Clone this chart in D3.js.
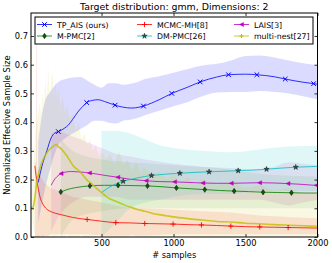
<!DOCTYPE html>
<html>
<head>
<meta charset="utf-8">
<script src="https://cdn.jsdelivr.net/npm/d3@7"></script>
<style>
body { margin: 0; background: white; }
text { font-family: "DejaVu Sans", sans-serif; }
</style>
</head>
<body>
<div id="container"></div>
<script>
// TP_AIS (ours)
const tpX = [60, 85, 120, 150, 175, 200, 240, 270, 300, 335, 370, 397, 440, 475, 520, 560, 594, 650, 710, 760, 791, 900, 988, 1100, 1185, 1300, 1382, 1500, 1579, 1700, 1776, 1900, 1973, 2000];
const tpY = [0.19, 0.245, 0.30, 0.345, 0.362, 0.367, 0.378, 0.39, 0.41, 0.435, 0.455, 0.468, 0.476, 0.478, 0.472, 0.465, 0.459, 0.452, 0.449, 0.452, 0.456, 0.478, 0.500, 0.522, 0.540, 0.557, 0.565, 0.567, 0.565, 0.558, 0.550, 0.539, 0.534, 0.532];
const tpMarks = [200, 397, 594, 791, 988, 1185, 1382, 1579, 1776, 1973];
const tpBandX = [60, 100, 150, 200, 250, 300, 350, 400, 450, 500, 550, 600, 650, 700, 750, 800, 900, 1000, 1100, 1200, 1300, 1400, 1500, 1600, 1700, 1800, 1900, 2000];
const tpLo = [0.05, 0.15, 0.25, 0.32, 0.345, 0.36, 0.375, 0.39, 0.405, 0.405, 0.398, 0.395, 0.405, 0.408, 0.414, 0.424, 0.44, 0.455, 0.47, 0.49, 0.503, 0.505, 0.505, 0.508, 0.505, 0.5, 0.49, 0.48];
const tpHi = [0.33, 0.46, 0.51, 0.54, 0.55, 0.555, 0.557, 0.545, 0.53, 0.52, 0.535, 0.535, 0.53, 0.534, 0.54, 0.55, 0.56, 0.572, 0.585, 0.597, 0.603, 0.615, 0.63, 0.632, 0.625, 0.615, 0.605, 0.598];

// MCMC-MH[8]
const mhX = [37, 45, 58, 75, 92, 120, 150, 200, 250, 300, 350, 400, 450, 500, 599, 700, 800, 900, 997, 1100, 1194, 1300, 1398, 1500, 1599, 1700, 1796, 1900, 2000];
const mhY = [0.248, 0.215, 0.175, 0.135, 0.115, 0.097, 0.088, 0.08, 0.074, 0.068, 0.064, 0.061, 0.058, 0.055, 0.05, 0.049, 0.047, 0.046, 0.045, 0.043, 0.042, 0.04, 0.038, 0.036, 0.035, 0.034, 0.033, 0.032, 0.031];
const mhMarks = [400, 599, 800, 997, 1194, 1398, 1599, 1796];
const mhBandX = [37, 45, 46, 52, 53, 70, 100, 150, 200, 300, 400, 500, 600, 700, 800, 1000, 1200, 1400, 1600, 1800, 2000];
const mhLo = [0, 0, 0, 0, 0, 0, 0, 0.01, 0.01, 0.01, 0.01, 0.005, 0.005, 0.005, 0.005, 0.01, 0.01, 0.01, 0.01, 0.01, 0.01];
const mhHi = [0.26, 0.26, 0.8, 0.8, 0.24, 0.22, 0.19, 0.17, 0.16, 0.14, 0.13, 0.12, 0.11, 0.1, 0.1, 0.095, 0.09, 0.085, 0.075, 0.07, 0.065];

// LAIS[3]
const lsX = [150, 170, 190, 219, 250, 290, 335, 380, 416, 470, 530, 613, 700, 810, 900, 1007, 1100, 1204, 1300, 1401, 1500, 1598, 1700, 1795, 1900, 1992, 2000];
const lsY = [0.18, 0.198, 0.21, 0.221, 0.226, 0.228, 0.227, 0.225, 0.223, 0.219, 0.214, 0.208, 0.201, 0.196, 0.193, 0.192, 0.19, 0.188, 0.187, 0.187, 0.188, 0.189, 0.188, 0.186, 0.183, 0.18, 0.18];
const lsMarks = [219, 416, 613, 810, 1007, 1204, 1401, 1598, 1795, 1992];
const lsBandX = [150, 200, 250, 300, 400, 500, 600, 700, 800, 1000, 1200, 1400, 1600, 1700, 1800, 1900, 2000];
const lsLo = [0.02, 0.07, 0.1, 0.12, 0.14, 0.14, 0.14, 0.13, 0.13, 0.13, 0.13, 0.13, 0.13, 0.12, 0.11, 0.12, 0.13];
const lsHi = [0.36, 0.37, 0.36, 0.35, 0.33, 0.31, 0.29, 0.28, 0.27, 0.255, 0.245, 0.24, 0.235, 0.245, 0.26, 0.255, 0.25];

// M-PMC[2]
const mpX = [217, 260, 320, 419, 520, 615, 720, 819, 920, 1020, 1120, 1217, 1320, 1421, 1520, 1622, 1720, 1819, 1920, 2000];
const mpY = [0.157, 0.165, 0.172, 0.178, 0.18, 0.18, 0.179, 0.178, 0.175, 0.171, 0.168, 0.165, 0.162, 0.16, 0.158, 0.156, 0.155, 0.154, 0.153, 0.153];
const mpMarks = [217, 419, 615, 819, 1020, 1217, 1421, 1622, 1819];
const mpBandX = [217, 300, 400, 500, 700, 1000, 1300, 1600, 2000];
const mpLo = [0.0, 0.06, 0.08, 0.09, 0.1, 0.1, 0.1, 0.1, 0.1];
const mpHi = [0.34, 0.3, 0.28, 0.27, 0.26, 0.25, 0.24, 0.22, 0.21];

// DM-PMC[26]
const dmX = [500, 550, 600, 650, 700, 750, 847, 950, 1044, 1150, 1247, 1350, 1449, 1550, 1646, 1750, 1849, 1950, 2000];
const dmY = [0.155, 0.172, 0.185, 0.194, 0.2, 0.206, 0.214, 0.219, 0.222, 0.225, 0.227, 0.229, 0.231, 0.233, 0.236, 0.24, 0.243, 0.245, 0.246];
const dmMarks = [650, 847, 1044, 1247, 1449, 1646, 1849];
const dmBandX = [500, 600, 700, 800, 900, 1000, 1200, 1400, 1600, 1800, 2000];
const dmLo = [0.0, 0.05, 0.1, 0.12, 0.13, 0.14, 0.15, 0.15, 0.16, 0.16, 0.16];
const dmHi = [0.37, 0.37, 0.36, 0.34, 0.32, 0.31, 0.3, 0.295, 0.305, 0.315, 0.318];

// multi-nest[27]
const mnX = [11, 20, 30, 40, 50, 60, 75, 90, 110, 130, 150, 170, 185, 200, 220, 240, 260, 275, 290, 300, 320, 340, 360, 380, 400, 430, 460, 500, 540, 580, 620, 660, 700, 750, 800, 850, 900, 950, 1000, 1100, 1200, 1300, 1400, 1500, 1600, 1700, 1800, 1900, 2000];
const mnY = [0.105, 0.1, 0.115, 0.15, 0.19, 0.215, 0.245, 0.265, 0.285, 0.3, 0.31, 0.318, 0.322, 0.315, 0.307, 0.295, 0.282, 0.27, 0.258, 0.25, 0.24, 0.232, 0.222, 0.21, 0.198, 0.186, 0.172, 0.155, 0.138, 0.128, 0.12, 0.111, 0.104, 0.096, 0.09, 0.083, 0.078, 0.074, 0.07, 0.064, 0.059, 0.054, 0.052, 0.048, 0.046, 0.043, 0.041, 0.039, 0.037];
const mnBandX = [11, 20, 30, 40, 50, 60, 70, 80, 90, 100, 110, 120, 130, 140, 150, 160, 170, 180, 190, 200, 215, 230, 245, 260, 280, 300, 320, 340, 360, 380, 400, 420, 440, 460, 480, 500, 530, 560, 590, 620, 650, 680, 710, 740, 770, 800, 850, 900, 950, 1000, 1050, 1100, 1150, 1200, 1300, 1400, 1500, 1600, 1700, 1800, 1900, 2000];
const mnHi = [0.12, 0.2, 0.28, 0.36, 0.4, 0.43, 0.47, 0.42, 0.5, 0.45, 0.56, 0.48, 0.59, 0.48, 0.54, 0.58, 0.47, 0.55, 0.48, 0.52, 0.45, 0.49, 0.43, 0.46, 0.41, 0.43, 0.37, 0.4, 0.34, 0.36, 0.32, 0.34, 0.3, 0.32, 0.28, 0.3, 0.27, 0.29, 0.25, 0.3, 0.25, 0.27, 0.23, 0.26, 0.22, 0.24, 0.21, 0.23, 0.2, 0.22, 0.19, 0.21, 0.18, 0.2, 0.18, 0.19, 0.17, 0.18, 0.16, 0.17, 0.15, 0.15];
const mnLo = [0.09, 0.05, 0.02, 0, 0, 0, 0, 0.01, 0, 0, 0.01, 0, 0, 0, 0.01, 0, 0, 0, 0, 0.01, 0, 0, 0, 0.01, 0, 0, 0, 0, 0.01, 0, 0, 0, 0, 0, 0.01, 0, 0, 0, 0, 0, 0, 0, 0.01, 0, 0, 0, 0, 0, 0, 0, 0, 0, 0, 0, 0, 0, 0, 0, 0, 0, 0, 0];

const xTicks = [500, 1000, 1500, 2000];
const yTicks = [0, 0.1, 0.2, 0.3, 0.4, 0.5, 0.6, 0.7];

const w = 332; // canvas width
const h = 263; // canvas height
const L = 31, R = 317.5, T = 13, B = 237; // plot box

const svg = d3.select("#container").append("svg").attr("width", w).attr("height", h).style("background-color", "white");

const xScale = d3.scaleLinear().domain([10, 2000]).range([L, R]);
const yScale = d3.scaleLinear().domain([0, 0.78]).range([B, T]);

svg.append("clipPath").attr("id", "clip").append("rect").attr("x", L).attr("y", T).attr("width", R - L).attr("height", B - T);
const plot = svg.append("g").attr("clip-path", "url(#clip)");

const series = [
	{name: "TP_AIS (ours)", xs: tpX, ys: tpY, marks: tpMarks, bx: tpBandX, lo: tpLo, hi: tpHi, color: "#0000ff", band: 0.14, marker: "x"},
	{name: "MCMC-MH[8]", xs: mhX, ys: mhY, marks: mhMarks, bx: mhBandX, lo: mhLo, hi: mhHi, color: "#ff0000", band: 0.1, marker: "+"},
	{name: "LAIS[3]", xs: lsX, ys: lsY, marks: lsMarks, bx: lsBandX, lo: lsLo, hi: lsHi, color: "#bf00bf", band: 0.1, marker: "<"},
	{name: "M-PMC[2]", xs: mpX, ys: mpY, marks: mpMarks, bx: mpBandX, lo: mpLo, hi: mpHi, color: "#008000", band: 0.08, marker: "d"},
	{name: "DM-PMC[26]", xs: dmX, ys: dmY, marks: dmMarks, bx: dmBandX, lo: dmLo, hi: dmHi, color: "#00bfbf", band: 0.12, marker: "*"},
	{name: "multi-nest[27]", xs: mnX, ys: mnY, marks: [], bx: mnBandX, lo: mnLo, hi: mnHi, color: "#bfbf00", band: 0.11, marker: "s+"}
];

// bands
series.forEach(s => {
	const pts = s.bx.map((v, i) => [v, s.lo[i], s.hi[i]]);
	const area = d3.area().x(d => xScale(d[0])).y0(d => yScale(d[1])).y1(d => yScale(d[2]));
	if(s.name != "multi-nest[27]" && s.name != "MCMC-MH[8]") area.curve(d3.curveMonotoneX);
	plot.append("path").datum(pts).attr("d", area).attr("fill", s.color).attr("fill-opacity", s.band);
});

function markerPath(type, r) {
	if(type == "x") return `M${-r},${-r}L${r},${r}M${-r},${r}L${r},${-r}`;
	if(type == "+" || type == "s+") return `M${-r},0L${r},0M0,${-r}L0,${r}`;
	if(type == "<") return `M${-r},0L${r},${-r}L${r},${r}Z`;
	if(type == "d") return `M0,${-r * 1.5}L${r},0L0,${r * 1.5}L${-r},0Z`;
	if(type == "*") return d3.symbol(d3.symbolStar, r)();
}

function drawMarker(g, type, cx, cy, color) {
	const m = g.append("path").attr("transform", `translate(${cx},${cy})`);
	if(type == "x") m.attr("d", markerPath(type, 2.3)).attr("stroke", color).attr("stroke-width", 1).attr("fill", "none");
	else if(type == "+") m.attr("d", markerPath(type, 2.6)).attr("stroke", color).attr("stroke-width", 0.9).attr("fill", "none");
	else if(type == "s+") m.attr("d", markerPath(type, 2)).attr("stroke", color).attr("stroke-width", 1).attr("fill", "none");
	else if(type == "<") m.attr("d", markerPath(type, 2)).attr("fill", color).attr("stroke", color).attr("stroke-width", 0.5);
	else if(type == "d") m.attr("d", markerPath(type, 1.8)).attr("fill", "#0b5d0b").attr("stroke", "#000").attr("stroke-width", 0.5);
	else if(type == "*") m.attr("d", markerPath(type, 9)).attr("fill", "#1d5a5a").attr("stroke", "#000").attr("stroke-width", 0.4);
}

// lines
series.forEach(s => {
	const pts = s.xs.map((v, i) => [v, s.ys[i]]);
	const line = d3.line().x(d => xScale(d[0])).y(d => yScale(d[1])).curve(d3.curveMonotoneX);
	plot.append("path").datum(pts).attr("d", line).attr("fill", "none").attr("stroke", s.color).attr("stroke-opacity", 0.8).attr("stroke-width", s.marker == "s+" ? 1.6 : 1);
});

// markers
series.forEach(s => {
	s.marks.forEach(mx => {
		const i = s.xs.indexOf(mx);
		if(i < 0) return;
		drawMarker(plot, s.marker, xScale(s.xs[i]), yScale(s.ys[i]), s.color);
	});
});

// axes
const xAxis = d3.axisBottom(xScale).tickValues(xTicks).tickSize(-3).tickPadding(3).tickFormat(d3.format("d"));
svg.append("g").attr("transform", `translate(0, ${B})`).call(xAxis);
svg.append("g").attr("transform", `translate(0, ${T})`).call(d3.axisTop(xScale).tickValues(xTicks).tickSize(-3).tickFormat(""));
const yAxis = d3.axisLeft(yScale).tickValues(yTicks).tickSize(-3).tickPadding(3).tickFormat(d3.format(".1f"));
svg.append("g").attr("transform", `translate(${L}, 0)`).call(yAxis);
svg.append("g").attr("transform", `translate(${R}, 0)`).call(d3.axisRight(yScale).tickValues(yTicks).tickSize(-3).tickFormat(""));
svg.selectAll(".domain").remove();
svg.selectAll(".tick text").attr("font-family", "DejaVu Sans").attr("font-size", 8.3).attr("fill", "#000");
svg.selectAll(".tick line").attr("stroke", "#000").attr("stroke-width", 0.8);
svg.append("rect").attr("x", L).attr("y", T).attr("width", R - L).attr("height", B - T).attr("fill", "none").attr("stroke", "#000").attr("stroke-width", 1);

// titles
svg.append("text").attr("x", (L + R) / 2).attr("y", 10).attr("text-anchor", "middle").attr("font-size", 9.4).text("Target distribution: gmm, Dimensions: 2");
svg.append("text").attr("x", (L + R) / 2).attr("y", 258).attr("text-anchor", "middle").attr("font-size", 8.3).text("# samples");
svg.append("text").attr("transform", `translate(10, ${(T + B) / 2}) rotate(-90)`).attr("text-anchor", "middle").attr("font-size", 8.3).text("Normalized Effective Sample Size");

// legend
const lg = svg.append("g");
lg.append("rect").attr("x", 35).attr("y", 17).attr("width", 278).attr("height", 27).attr("fill", "white").attr("stroke", "#000").attr("stroke-width", 1);
const colX = [37, 137, 234];
const rowY = [24.5, 36];
series.forEach((s, i) => {
	const c = i % 3;
	const r = i < 3 ? 0 : 1;
	const x0 = colX[c], yy = rowY[r];
	lg.append("line").attr("x1", x0).attr("x2", x0 + 15).attr("y1", yy).attr("y2", yy).attr("stroke", s.color).attr("stroke-opacity", 0.8).attr("stroke-width", 1);
	drawMarker(lg, s.marker, x0 + 7.5, yy, s.color);
	lg.append("text").attr("x", x0 + 20).attr("y", yy + 3).attr("font-size", 7.8).text(s.name);
});
</script>
</body>
</html>
